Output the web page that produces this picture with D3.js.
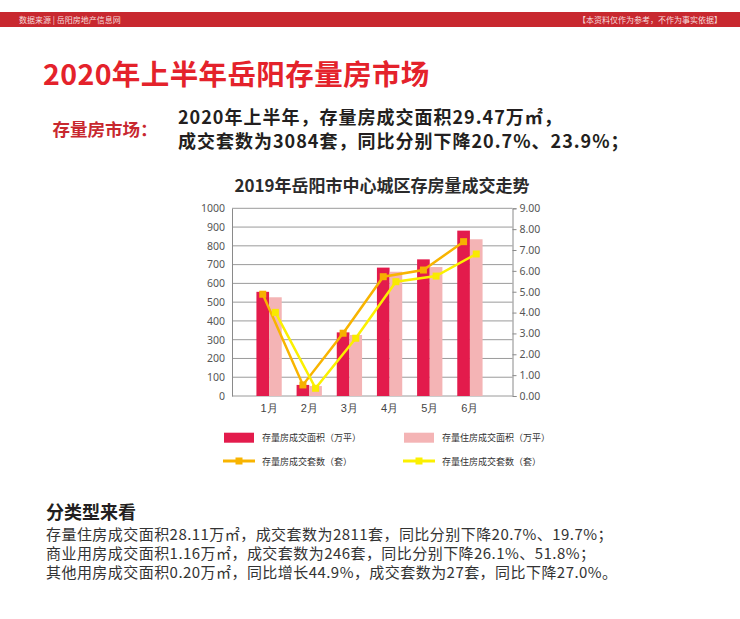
<!DOCTYPE html>
<html>
<head>
<meta charset="utf-8">
<script src="https://cdn.jsdelivr.net/npm/d3@7"></script>
<style>
  html, body { margin: 0; padding: 0; background: #fff; }
  svg { display: block; font-family: "Noto Sans CJK SC", "Noto Sans", sans-serif; }
</style>
</head>
<body>
<svg id="chart" width="740" height="619"></svg>
<script>
// ---------- data ----------
const months = ["1月", "2月", "3月", "4月", "5月", "6月"];
const areaAll = [555, 59, 339, 684, 728, 881];      // 存量房成交面积（万平）
const areaRes = [526, 53, 325, 662, 687, 835];      // 存量住房成交面积（万平）
const setsAll = [4.88, 0.53, 3.01, 5.72, 6.04, 7.40]; // 存量房成交套数（套）
const setsRes = [4.01, 0.37, 2.77, 5.48, 5.75, 6.81]; // 存量住房成交套数（套）
const leftTicks = [0, 100, 200, 300, 400, 500, 600, 700, 800, 900, 1000];
const rightTicks = [0, 1, 2, 3, 4, 5, 6, 7, 8, 9];
const seriesNames = ["存量房成交面积（万平）", "存量住房成交面积（万平）", "存量房成交套数（套）", "存量住房成交套数（套）"];

const headerLeft = "数据来源 | 岳阳房地产信息网";
const headerRight = "【本资料仅作为参考，不作为事实依据】";
const mainTitle = "2020年上半年岳阳存量房市场";
const leadLabel = "存量房市场：";
const leadLines = ["2020年上半年，存量房成交面积29.47万㎡，", "成交套数为3084套，同比分别下降20.7%、23.9%；"];
const chartTitle = "2019年岳阳市中心城区存房量成交走势";
const subHeading = "分类型来看";
const bodyLines = [
  "存量住房成交面积28.11万㎡，成交套数为2811套，同比分别下降20.7%、19.7%；",
  "商业用房成交面积1.16万㎡，成交套数为246套，同比分别下降26.1%、51.8%；",
  "其他用房成交面积0.20万㎡，同比增长44.9%，成交套数为27套，同比下降27.0%。"
];

// ---------- drawing ----------
const svg = d3.select("#chart");
const RED = "#c8282f";

// header bar
svg.append("rect").attr("x", 0).attr("y", 12).attr("width", 740).attr("height", 15).attr("fill", RED);
svg.append("text").attr("x", 19).attr("y", 19.5).attr("dominant-baseline", "central")
  .attr("font-size", 8).attr("fill", "#f6dcdc").text(headerLeft);
svg.append("text").attr("x", 722).attr("y", 19.5).attr("dominant-baseline", "central")
  .attr("text-anchor", "end").attr("font-size", 8).attr("fill", "#f6dcdc").text(headerRight);

// main title
svg.append("text").attr("x", 43).attr("y", 72).attr("dominant-baseline", "central")
  .attr("font-size", 28.5).attr("letter-spacing", 0.4).attr("font-weight", "bold")
  .attr("fill", "#e4222b").text(mainTitle);

// lead
svg.append("text").attr("x", 52.5).attr("y", 128.5).attr("dominant-baseline", "central")
  .attr("font-size", 17.5).attr("font-weight", "bold").attr("fill", "#c8282f").text(leadLabel);
svg.selectAll("text.lead").data(leadLines).join("text").attr("class", "lead")
  .attr("x", 178).attr("y", (d, i) => 116 + i * 23.5).attr("dominant-baseline", "central")
  .attr("font-size", 18).attr("letter-spacing", 1).attr("font-weight", "bold")
  .attr("fill", "#231f20").text(d => d);

// chart title
svg.append("text").attr("x", 382).attr("y", 184.5).attr("dominant-baseline", "central")
  .attr("text-anchor", "middle").attr("font-size", 17).attr("font-weight", "bold")
  .attr("fill", "#2b2b2b").text(chartTitle);

// plot area
const plot = { left: 232, right: 512.5, top: 208.3, bottom: 396 };
const yL = d3.scaleLinear().domain([0, 1000]).range([plot.bottom, plot.top]);
const yR = d3.scaleLinear().domain([0, 9]).range([plot.bottom, plot.top]);
const x = d3.scaleBand().domain(months).range([249, 490]).paddingInner(0.37).paddingOuter(0.185);
const xs = d3.scaleBand().domain(["all", "res"]).range([0, x.bandwidth()]);

// gridlines
svg.append("g").selectAll("line").data(leftTicks).join("line")
  .attr("x1", plot.left).attr("x2", plot.right)
  .attr("y1", d => yL(d)).attr("y2", d => yL(d))
  .attr("stroke", "#9a9a9a").attr("stroke-width", 1);

// left axis
const gL = svg.append("g").attr("transform", `translate(${plot.left},0)`)
  .call(d3.axisLeft(yL).tickValues(leftTicks).tickSize(0).tickPadding(7).tickFormat(d3.format("d")));
gL.select(".domain").attr("stroke", "#8a8a8a");
gL.selectAll("text").attr("font-size", 10.5).attr("fill", "#555").attr("font-family", "'Noto Sans', sans-serif");

// right axis
const gR = svg.append("g").attr("transform", `translate(${plot.right},0)`)
  .call(d3.axisRight(yR).tickValues(rightTicks).tickSize(4).tickPadding(3).tickFormat(d3.format(".2f")));
gR.select(".domain").attr("stroke", "#8a8a8a");
gR.selectAll("line").attr("stroke", "#8a8a8a");
gR.selectAll("text").attr("font-size", 10.5).attr("fill", "#555").attr("font-family", "'Noto Sans', sans-serif");

// bottom axis
const gB = svg.append("g").attr("transform", `translate(0,${plot.bottom})`)
  .call(d3.axisBottom(x).tickSize(0).tickPadding(8));
gB.select(".domain").remove();
gB.selectAll("text").attr("font-size", 11).attr("fill", "#444");

// bars
const DARK = "#e31b4c", LIGHT = "#f4b4b5";
svg.append("g").selectAll("rect").data(months).join("rect")
  .attr("x", d => x(d) + xs("all")).attr("width", xs.bandwidth())
  .attr("y", (d, i) => yL(areaAll[i])).attr("height", (d, i) => yL(0) - yL(areaAll[i]))
  .attr("fill", DARK);
svg.append("g").selectAll("rect").data(months).join("rect")
  .attr("x", d => x(d) + xs("res")).attr("width", xs.bandwidth())
  .attr("y", (d, i) => yL(areaRes[i])).attr("height", (d, i) => yL(0) - yL(areaRes[i]))
  .attr("fill", LIGHT);

// lines
const ORANGE = "#f8b400", YELLOW = "#fbf000";
function drawLine(vals, key, color, mcolor) {
  const pts = months.map((m, i) => [x(m) + xs(key) + xs.bandwidth() / 2, yR(vals[i])]);
  svg.append("path").attr("d", d3.line()(pts)).attr("fill", "none")
    .attr("stroke", color).attr("stroke-width", 2.5);
  svg.append("g").selectAll("rect").data(pts).join("rect")
    .attr("x", p => p[0] - 3.5).attr("y", p => p[1] - 3.5).attr("width", 7).attr("height", 7)
    .attr("fill", mcolor);
}
drawLine(setsAll, "all", ORANGE, "#f6b000");
drawLine(setsRes, "res", YELLOW, "#f9ea00");

// legend
const legend = [
  { name: seriesNames[0], type: "rect", color: DARK, x: 224, y: 437.7 },
  { name: seriesNames[1], type: "rect", color: LIGHT, x: 404, y: 437.7 },
  { name: seriesNames[2], type: "line", color: ORANGE, x: 224, y: 461 },
  { name: seriesNames[3], type: "line", color: YELLOW, x: 404, y: 461 }
];
const lg = svg.append("g").selectAll("g").data(legend).join("g")
  .attr("transform", d => `translate(${d.x},${d.y})`);
lg.filter(d => d.type === "rect").append("rect")
  .attr("x", 0).attr("y", -5).attr("width", 30).attr("height", 10).attr("fill", d => d.color);
lg.filter(d => d.type === "line").append("line")
  .attr("x1", -1).attr("x2", 31).attr("y1", 0).attr("y2", 0)
  .attr("stroke", d => d.color).attr("stroke-width", 3);
lg.filter(d => d.type === "line").append("rect")
  .attr("x", 11.5).attr("y", -3.5).attr("width", 7).attr("height", 7).attr("fill", d => d.color);
lg.append("text").attr("x", 38).attr("y", 0).attr("dominant-baseline", "central")
  .attr("font-size", 9).attr("fill", "#333").text(d => d.name);

// bottom text
svg.append("text").attr("x", 46).attr("y", 511).attr("dominant-baseline", "central")
  .attr("font-size", 18).attr("font-weight", "bold").attr("fill", "#231f20").text(subHeading);
svg.selectAll("text.body").data(bodyLines).join("text").attr("class", "body")
  .attr("x", 46).attr("y", (d, i) => 533 + i * 19.3).attr("dominant-baseline", "central")
  .attr("font-size", 15).attr("letter-spacing", 0.45).attr("fill", "#333").text(d => d);
</script>
</body>
</html>
